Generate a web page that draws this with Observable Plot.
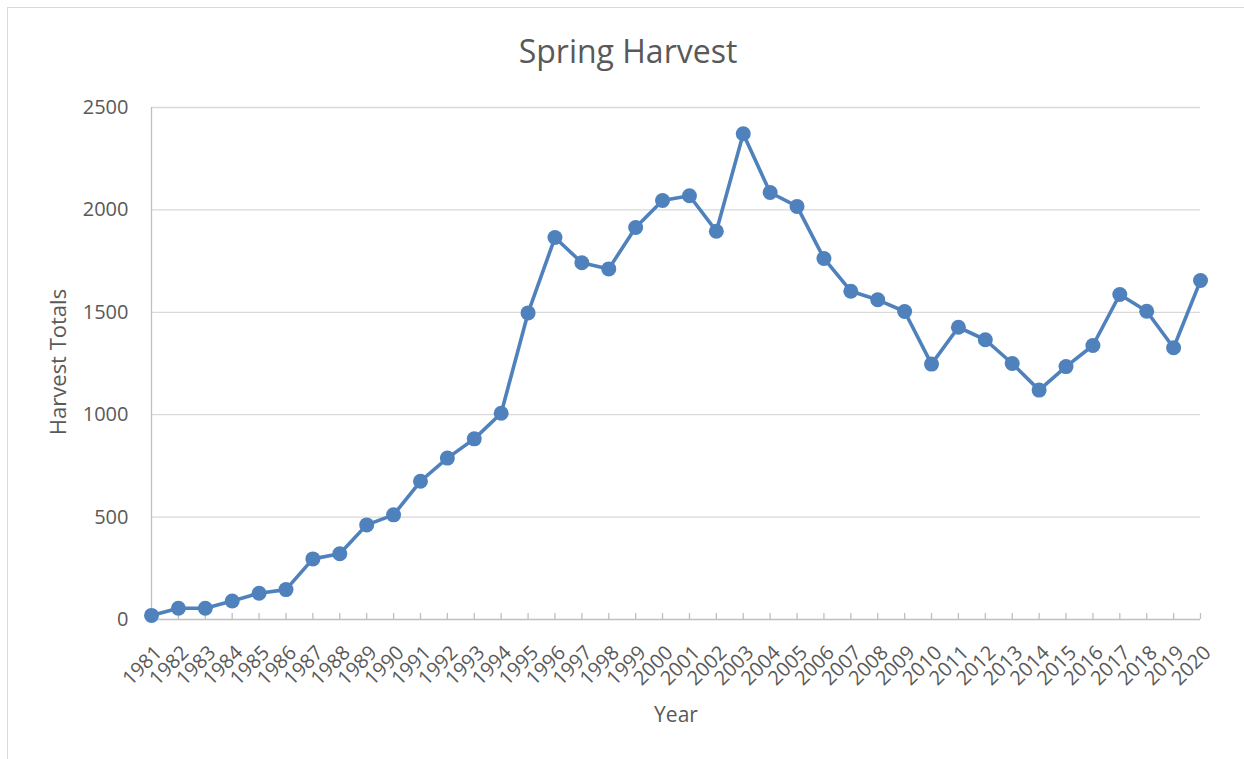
<!DOCTYPE html>
<html>
<head>
<meta charset="utf-8">
<script src="https://cdn.jsdelivr.net/npm/d3@7"></script>
<script src="https://cdn.jsdelivr.net/npm/@observablehq/plot@0.6"></script>
<style>
  html, body { margin: 0; padding: 0; background: #fff; }
  #wrap { position: relative; width: 1244px; height: 759px; overflow: hidden; font-family: "Open Sans", sans-serif; color: #595959; }
  #border { position: absolute; left: 7px; top: 7px; right: 0; bottom: 0; border-top: 1.3px solid #d9d9d9; border-left: 1.3px solid #d9d9d9; }
  #title { position: absolute; left: 0; width: 1256px; top: 27px; text-align: center; font-size: 32px; line-height: 48px; }
  #ylab { position: absolute; left: 57px; top: 362px; font-size: 22px; white-space: nowrap; transform: translate(-50%, -50%) rotate(-90deg); }
  #xlab { position: absolute; left: 676px; top: 714px; font-size: 21px; white-space: nowrap; transform: translate(-50%, -50%); }
  #chart { position: absolute; left: 0; top: 80px; }
</style>
</head>
<body>
<div id="wrap">
  <div id="border"></div>
  <div id="chart"></div>
  <div id="title">Spring Harvest</div>
  <div id="ylab">Harvest Totals</div>
  <div id="xlab">Year</div>
</div>
<script>
const years = ["1981","1982","1983","1984","1985","1986","1987","1988","1989","1990",
  "1991","1992","1993","1994","1995","1996","1997","1998","1999","2000",
  "2001","2002","2003","2004","2005","2006","2007","2008","2009","2010",
  "2011","2012","2013","2014","2015","2016","2017","2018","2019","2020"];
const harvest = [20,55,55,90,128,146,296,321,462,511,
  675,788,882,1007,1497,1865,1742,1712,1914,2046,
  2069,1896,2372,2085,2017,1763,1603,1561,1504,1247,
  1427,1366,1250,1120,1235,1338,1587,1505,1327,1655];
const yTicks = [0,500,1000,1500,2000,2500];

const data = years.map((y, i) => ({year: y, value: harvest[i]}));

const chart = Plot.plot({
  width: 1244,
  height: 679,
  marginTop: 27,
  marginBottom: 140,
  marginLeft: 151,
  marginRight: 44,
  style: {fontFamily: "Open Sans, sans-serif", fontSize: "20px", color: "#595959", background: "transparent"},
  x: {type: "point", domain: years, padding: 0, axis: null},
  y: {domain: [0, 2500], axis: null},
  marks: [
    Plot.gridY(yTicks.slice(1), {stroke: "#d9d9d9", strokeOpacity: 1, strokeWidth: 1.3}),
    Plot.axisY(yTicks, {tickSize: 0, tickPadding: 23, fontSize: 20, fill: "#595959", label: null, tickFormat: d => String(d)}),
    Plot.ruleX([years[0]], {stroke: "#bfbfbf", strokeWidth: 1.3}),
    Plot.ruleY([0], {stroke: "#bfbfbf", strokeWidth: 1.3}),
    Plot.tickX(years, {x: d => d, insetTop: 506, stroke: "#bfbfbf", strokeWidth: 1.3}),
    Plot.text(years, {x: d => d, frameAnchor: "bottom", rotate: -45, textAnchor: "end", lineAnchor: "middle", dx: 7, dy: 30, fontSize: 20, fill: "#595959"}),
    Plot.line(data, {x: "year", y: "value", stroke: "#4f81bd", strokeWidth: 3.6}),
    Plot.dot(data, {x: "year", y: "value", r: 7.5, fill: "#4f81bd", stroke: "none"})
  ]
});
document.getElementById("chart").appendChild(chart);
</script>
</body>
</html>
